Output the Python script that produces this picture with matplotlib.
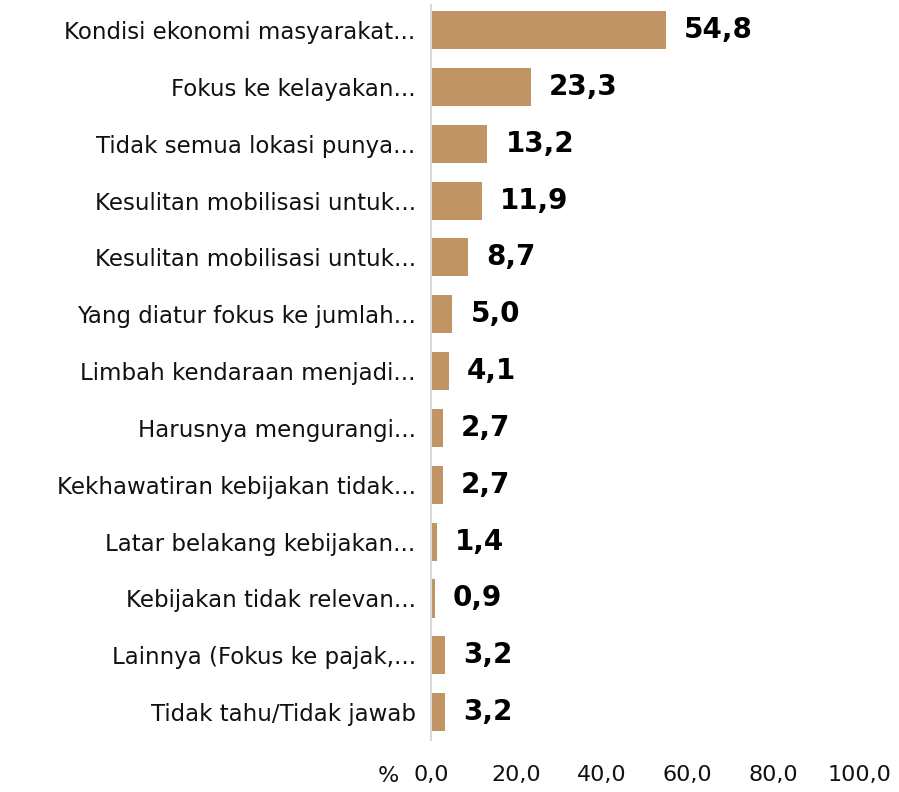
import matplotlib

matplotlib.use("Agg")
import matplotlib.pyplot as plt

categories = [
    "Kondisi ekonomi masyarakat...",
    "Fokus ke kelayakan...",
    "Tidak semua lokasi punya...",
    "Kesulitan mobilisasi untuk...",
    "Kesulitan mobilisasi untuk...",
    "Yang diatur fokus ke jumlah...",
    "Limbah kendaraan menjadi...",
    "Harusnya mengurangi...",
    "Kekhawatiran kebijakan tidak...",
    "Latar belakang kebijakan...",
    "Kebijakan tidak relevan...",
    "Lainnya (Fokus ke pajak,...",
    "Tidak tahu/Tidak jawab",
]
values = [54.8, 23.3, 13.2, 11.9, 8.7, 5.0, 4.1, 2.7, 2.7, 1.4, 0.9, 3.2, 3.2]
xticks = [0, 20, 40, 60, 80, 100]

BAR = "#C09464"

plt.rcParams["font.family"] = ["DejaVu Sans"]

fig = plt.figure(figsize=(8.99, 7.92), dpi=100)
ax = fig.add_axes([431 / 899, 52 / 792, 428 / 899, 735 / 792])

y = list(range(len(categories)))
ax.barh(y, values, height=0.67, color=BAR)
for yi, v in zip(y, values):
    ax.annotate(f"{v:.1f}".replace(".", ","), (v, yi), xytext=(13, 0),
                textcoords="offset points", va="center", ha="left",
                fontsize=20, fontweight="bold", color="black")

ax.set_xlim(0, 100)
ax.set_ylim(12.49, -0.44)
ax.set_yticks(y)
ax.set_yticklabels(categories, fontsize=16.5, color="#111111")
ax.set_xticks(xticks)
ax.set_xticklabels([f"{t:.1f}".replace(".", ",") for t in xticks],
                   fontsize=16, color="#111111")
ax.tick_params(axis="y", length=0, pad=11)
ax.tick_params(axis="x", length=0, pad=18)
for s in ["top", "right", "bottom"]:
    ax.spines[s].set_visible(False)
ax.spines["left"].set_color("#D9D9D9")
ax.spines["left"].set_linewidth(1.5)

fig.text(388 / 899, 1 - 776 / 792, "%", fontsize=16, color="#111111",
         ha="center", va="center")

fig.savefig("out.png", dpi=100)
